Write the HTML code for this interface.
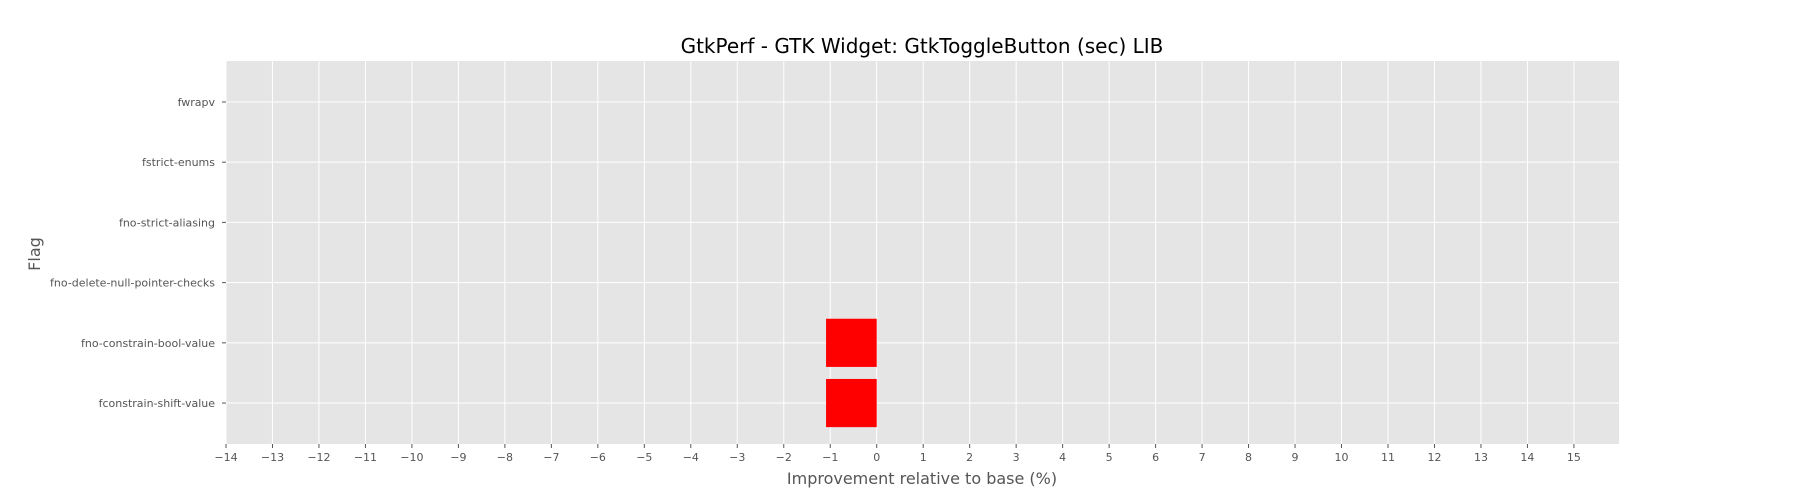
<!DOCTYPE html>
<html><head><meta charset="utf-8"><style>
body{margin:0;background:#fff;}
svg{display:block;font-family:"DejaVu Sans","Liberation Sans",sans-serif;}
</style></head><body>
<svg id="chart" width="1800" height="500">
<rect x="0" y="0" width="1800" height="500" fill="#fff"/>
<text x="922" y="53" text-anchor="middle" font-size="20" fill="#000">GtkPerf - GTK Widget: GtkToggleButton (sec) LIB</text>
<rect x="226" y="61" width="1393" height="383" fill="#e5e5e5"/>
<g id="grid"></g><g id="bars"></g><g id="xticks"></g><g id="yticks"></g>
<text x="922" y="484" text-anchor="middle" font-size="16" fill="#555">Improvement relative to base (%)</text>
<text x="40" y="254" text-anchor="middle" font-size="16" fill="#555" transform="rotate(-90 40 254)">Flag</text>
</svg>
<script>
const categories = ["fconstrain-shift-value","fno-constrain-bool-value","fno-delete-null-pointer-checks","fno-strict-aliasing","fstrict-enums","fwrapv"];
const values = [-1.09, -1.09, 0, 0, 0, 0];
const xTicks = [-14,-13,-12,-11,-10,-9,-8,-7,-6,-5,-4,-3,-2,-1,0,1,2,3,4,5,6,7,8,9,10,11,12,13,14,15];
const X0=226,X1=1619,XMIN=-14,XMAX=15.97,Y0=444,Y1=61,YMIN=-0.68,YMAX=5.68;
const NS="http://www.w3.org/2000/svg";
function sx(v){return X0+(v-XMIN)/(XMAX-XMIN)*(X1-X0);}
function sy(i){return Y0-(i-YMIN)/(YMAX-YMIN)*(Y0-Y1);}
function mk(t,a,p){const e=document.createElementNS(NS,t);for(const k in a)e.setAttribute(k,a[k]);p.appendChild(e);return e;}
const grid=document.getElementById('grid'),bars=document.getElementById('bars'),xt=document.getElementById('xticks'),yt=document.getElementById('yticks');
xTicks.forEach(v=>{
  const x=sx(v);
  const g=mk('line',{x1:x,x2:x,y1:Y1,y2:Y0,stroke:'#fff','stroke-width':1},grid);
  
  
  mk('line',{x1:x,x2:x,y1:Y0,y2:Y0+4,stroke:'#555'},xt);
  const t=mk('text',{x:x,y:Y0+17,'text-anchor':'middle','font-size':11,fill:'#555'},xt);
  t.textContent=(v<0?'\u2212'+(-v):''+v);
  
  
});
categories.forEach((c,i)=>{
  const y=sy(i);
  const g=mk('line',{x1:X0,x2:X1,y1:y,y2:y,stroke:'#fff','stroke-width':1},grid);
  
  
  mk('line',{x1:X0-4,x2:X0,y1:y,y2:y,stroke:'#555'},yt);
  const t=mk('text',{x:X0-11,y:y+4,'text-anchor':'end','font-size':11,fill:'#555'},yt);
  t.textContent=c;
  
  
  const v=values[i];
  if(v!==0){
    const h=(sy(0)-sy(0.8));
    const r=mk('rect',{x:Math.min(sx(0),sx(v)),y:y-h/2,width:Math.abs(sx(v)-sx(0)),height:h,fill:'#ff0000'},bars);
    
    
  }
});
</script>
</body></html>
